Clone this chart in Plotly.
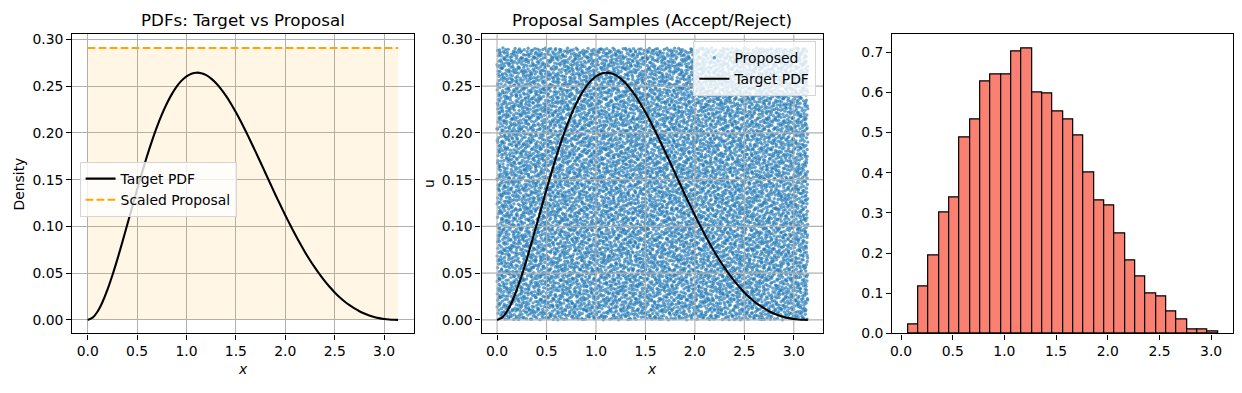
import plotly.graph_objects as go

# ---------------- data ----------------
# Target PDF (unnormalised) sampled along x
pdf_x = [0.0, 0.05, 0.1, 0.15, 0.2, 0.25, 0.3, 0.35, 0.4, 0.45, 0.5, 0.55, 0.6, 0.65,
         0.7, 0.75, 0.8, 0.85, 0.9, 0.95, 1.0, 1.05, 1.1, 1.15, 1.2, 1.25, 1.3, 1.35,
         1.4, 1.45, 1.5, 1.55, 1.6, 1.65, 1.7, 1.75, 1.8, 1.85, 1.9, 1.95, 2.0, 2.05,
         2.1, 2.15, 2.2, 2.25, 2.3, 2.35, 2.4, 2.45, 2.5, 2.55, 2.6, 2.65, 2.7, 2.75,
         2.8, 2.85, 2.9, 2.95, 3.0, 3.05, 3.1, 3.1416]
pdf_y = [0.0, 0.0024, 0.0090, 0.0192, 0.0323, 0.0477, 0.0647, 0.0829, 0.1017, 0.1206,
         0.1394, 0.1576, 0.1750, 0.1912, 0.2061, 0.2195, 0.2312, 0.2412, 0.2495, 0.2559,
         0.2605, 0.2633, 0.2644, 0.2638, 0.2617, 0.2580, 0.2530, 0.2468, 0.2395, 0.2312,
         0.2220, 0.2122, 0.2017, 0.1908, 0.1797, 0.1683, 0.1568, 0.1453, 0.1339, 0.1228,
         0.1119, 0.1014, 0.0913, 0.0816, 0.0724, 0.0638, 0.0558, 0.0483, 0.0414, 0.0351,
         0.0294, 0.0243, 0.0197, 0.0157, 0.0123, 0.0093, 0.0068, 0.0048, 0.0032, 0.0019,
         0.0010, 0.0004, 0.0001, 0.0]

# Scaled proposal (uniform envelope) over the support
support = [0.0, 3.1416]
proposal_level = 0.2908

# Histogram of accepted samples (density per bin)
hist_edges = [0.065, 0.165, 0.265, 0.365, 0.465, 0.565, 0.665, 0.765, 0.865, 0.965,
              1.065, 1.165, 1.265, 1.365, 1.465, 1.565, 1.665, 1.765, 1.865, 1.965,
              2.065, 2.165, 2.265, 2.365, 2.465, 2.565, 2.665, 2.765, 2.865, 2.965, 3.065]
hist_density = [0.023, 0.117, 0.195, 0.301, 0.339, 0.489, 0.533, 0.627, 0.644, 0.646,
                0.701, 0.709, 0.599, 0.598, 0.552, 0.533, 0.494, 0.400, 0.332, 0.319,
                0.249, 0.182, 0.142, 0.101, 0.093, 0.056, 0.035, 0.010, 0.011, 0.006]

# tick values
pdf_xticks = [0.0, 0.5, 1.0, 1.5, 2.0, 2.5, 3.0]
pdf_yticks = [0.0, 0.05, 0.10, 0.15, 0.20, 0.25, 0.30]
hist_yticks = [0.0, 0.1, 0.2, 0.3, 0.4, 0.5, 0.6, 0.7]

# Proposed points: uniform cloud over [0, pi] x [0, M]; individual points cannot be
# read from the picture, so a deterministic leaped-Halton cloud stands in for them.
n_proposed = 10000
halton_leap = 409


def radical_inverse(i, base):
    f, r = 1.0, 0.0
    while i > 0:
        f /= base
        r += f * (i % base)
        i //= base
    return r


prop_x = [support[0] + (support[1] - support[0]) * radical_inverse((i + 1) * halton_leap, 2)
          for i in range(n_proposed)]
prop_u = [proposal_level * radical_inverse((i + 1) * halton_leap, 3) for i in range(n_proposed)]

# ---------------- figure ----------------
W, H = 1242, 393   # reference frame used to place things (as fractions of the page)
FONT = "DejaVu Sans"
TICK = 13.9
GRID = "#b0b0b0"


def px_x(p):
    return p / W


def px_y(p):
    return 1 - p / H


fig = go.Figure()

# Panel 1 ---------------------------------------------------------------
fig.add_trace(go.Scatter(
    x=[support[0], support[1], support[1], support[0]],
    y=[0, 0, proposal_level, proposal_level],
    fill="toself", fillcolor="rgba(255,165,0,0.1)", line=dict(width=0),
    mode="lines", showlegend=False, hoverinfo="skip", xaxis="x", yaxis="y"))
fig.add_trace(go.Scatter(
    x=pdf_x, y=pdf_y, mode="lines", line=dict(color="black", width=2.1, shape="spline", smoothing=0.8),
    name="Target PDF", legend="legend", xaxis="x", yaxis="y"))
fig.add_trace(go.Scatter(
    x=support, y=[proposal_level, proposal_level], mode="lines",
    line=dict(color="orange", width=2.1, dash="7.7px,3.3px"),
    name="Scaled Proposal", legend="legend", xaxis="x", yaxis="y"))

# Panel 2 ---------------------------------------------------------------
fig.add_trace(go.Scatter(
    x=prop_x, y=prop_u, mode="markers",
    marker=dict(color="#1f77b4", size=3.4, opacity=0.68, line=dict(width=0)),
    name="Proposed", legend="legend2", xaxis="x2", yaxis="y2"))
# grid drawn above the sample cloud (as in the reference)
gx, gy = [], []
for t in pdf_xticks:
    gx += [t, t, None]
    gy += [-1, 1, None]
for t in pdf_yticks:
    gx += [-10, 10, None]
    gy += [t, t, None]
fig.add_trace(go.Scatter(x=gx, y=gy, mode="lines", line=dict(color=GRID, width=1.1),
                         showlegend=False, hoverinfo="skip", xaxis="x2", yaxis="y2"))
fig.add_trace(go.Scatter(
    x=pdf_x, y=pdf_y, mode="lines", line=dict(color="black", width=2.1, shape="spline", smoothing=0.8),
    name="Target PDF", legend="legend2", xaxis="x2", yaxis="y2"))

# Panel 3 ---------------------------------------------------------------
centers = [(hist_edges[i] + hist_edges[i + 1]) / 2 for i in range(len(hist_density))]
widths = [hist_edges[i + 1] - hist_edges[i] for i in range(len(hist_density))]
fig.add_trace(go.Bar(
    x=centers, y=hist_density, width=widths,
    marker=dict(color="salmon", line=dict(color="black", width=1.2)),
    showlegend=False, xaxis="x3", yaxis="y3"))

axis_common = dict(
    showline=True, linecolor="black", linewidth=1.1, mirror=True,
    ticks="outside", ticklen=5, tickwidth=1.1, tickcolor="black",
    tickfont=dict(family=FONT, size=TICK, color="black"),
    zeroline=False,
)

ydom = [px_y(340), px_y(32.3)]
pdf_xrange = [-0.157, 3.299]
pdf_yrange = [-0.01454, 0.30534]

fig.update_layout(
    autosize=True,
    margin=dict(l=0, r=0, t=0, b=0),
    paper_bgcolor="white", plot_bgcolor="white",
    font=dict(family=FONT, color="black"),
    bargap=0,
    xaxis=dict(domain=[px_x(70.3), px_x(412.3)], range=pdf_xrange, tickvals=pdf_xticks,
               tickformat=".1f", showgrid=True, gridcolor=GRID, gridwidth=1.1, anchor="y", **axis_common),
    yaxis=dict(domain=ydom, range=pdf_yrange, tickvals=pdf_yticks, tickformat=".2f",
               showgrid=True, gridcolor=GRID, gridwidth=1.1, anchor="x", **axis_common),
    xaxis2=dict(domain=[px_x(480.3), px_x(822.7)], range=pdf_xrange, tickvals=pdf_xticks,
                tickformat=".1f", showgrid=False, anchor="y2", **axis_common),
    yaxis2=dict(domain=ydom, range=pdf_yrange, tickvals=pdf_yticks, tickformat=".2f",
                showgrid=False, anchor="x2", **axis_common),
    xaxis3=dict(domain=[px_x(891.7), px_x(1233.3)], range=[-0.085, 3.215], tickvals=pdf_xticks,
                tickformat=".1f", showgrid=False, anchor="y3", **axis_common),
    yaxis3=dict(domain=ydom, range=[0, 0.7445], tickvals=hist_yticks, tickformat=".1f",
                showgrid=False, anchor="x3", **axis_common),
    legend=dict(x=px_x(77.7), y=px_y(163.7), xanchor="left", yanchor="top",
                bgcolor="rgba(255,255,255,0.8)", bordercolor="#d5d5d5", borderwidth=1,
                font=dict(family=FONT, size=TICK, color="black"), tracegroupgap=0),
    legend2=dict(x=px_x(815.7), y=px_y(39.3), xanchor="right", yanchor="top",
                 bgcolor="rgba(255,255,255,0.8)", bordercolor="#d5d5d5", borderwidth=1,
                 font=dict(family=FONT, size=TICK, color="black"), tracegroupgap=0),
)

ann = []
ann.append(dict(text="PDFs: Target vs Proposal", x=px_x(241.3), y=px_y(18), xref="paper", yref="paper",
                showarrow=False, font=dict(family=FONT, size=16.7, color="black"), xanchor="center", yanchor="middle"))
ann.append(dict(text="Proposal Samples (Accept/Reject)", x=px_x(651.5), y=px_y(18), xref="paper", yref="paper",
                showarrow=False, font=dict(family=FONT, size=16.7, color="black"), xanchor="center", yanchor="middle"))
ann.append(dict(text="<i>x</i>", x=px_x(241.3), y=px_y(376.7), xref="paper", yref="paper",
                showarrow=False, font=dict(family=FONT, size=TICK, color="black"), xanchor="center", yanchor="middle"))
ann.append(dict(text="<i>x</i>", x=px_x(651.5), y=px_y(376.7), xref="paper", yref="paper",
                showarrow=False, font=dict(family=FONT, size=TICK, color="black"), xanchor="center", yanchor="middle"))
ann.append(dict(text="Density", x=px_x(16.7), y=px_y(186), xref="paper", yref="paper", textangle=-90,
                showarrow=False, font=dict(family=FONT, size=TICK, color="black"), xanchor="center", yanchor="middle"))
ann.append(dict(text="u", x=px_x(427), y=px_y(186), xref="paper", yref="paper", textangle=-90,
                showarrow=False, font=dict(family=FONT, size=TICK, color="black"), xanchor="center", yanchor="middle"))
fig.update_layout(annotations=ann)

fig.write_html(
    "out.html",
    default_width="100vw",
    default_height="100vh",
    config={"displayModeBar": False, "responsive": True},
    post_script="document.documentElement.style.margin='0';document.body.style.margin='0';"
                "document.documentElement.style.overflow='hidden';document.body.style.overflow='hidden';",
)
